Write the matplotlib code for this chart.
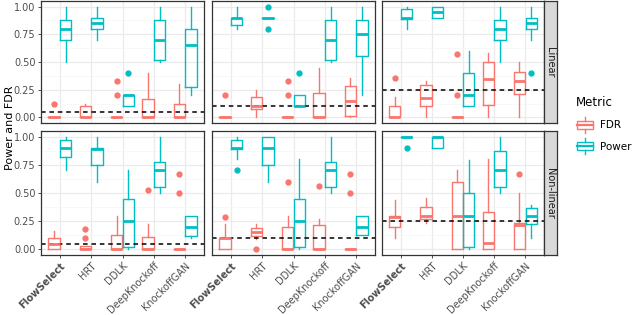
import matplotlib
matplotlib.use('Agg')
import matplotlib.pyplot as plt
from matplotlib.patches import Patch, Rectangle
from matplotlib.lines import Line2D
from matplotlib.legend_handler import HandlerBase

# ---- data (whislo, q1, med, q3, whishi) ----
methods = ['FlowSelect', 'HRT', 'DDLK', 'DeepKnockoff', 'KnockoffGAN']
thresholds = [0.05, 0.1, 0.25]
row_names = ['Linear', 'Non-linear']

fdr_lin_1 = [(0, 0, 0, 0, 0), (0, 0, 0, 0.1, 0.12), (0, 0, 0, 0, 0), (0, 0, 0, 0.167, 0.4), (0, 0, 0, 0.125, 0.3)]
fdr_lin_1_out = [[0.125], [], [0.333, 0.2], [], []]
pow_lin_1 = [(0.5, 0.7, 0.8, 0.88, 1.0), (0.7, 0.8, 0.85, 0.9, 1.0), (0.1, 0.1, 0.2, 0.2, 0.2),
             (0.5, 0.52, 0.7, 0.88, 1.0), (0.2, 0.275, 0.65, 0.8, 1.0)]
pow_lin_1_out = [[], [], [0.4], [], []]

fdr_lin_2 = [(0, 0, 0, 0, 0), (0, 0.075, 0.1, 0.185, 0.25), (0, 0, 0, 0, 0), (0, 0, 0, 0.22, 0.45), (0, 0.015, 0.15, 0.28, 0.355)]
fdr_lin_2_out = [[0.2], [], [0.333, 0.2], [], []]
pow_lin_2 = [(0.8, 0.83, 0.9, 0.9, 1.0), (0.9, 0.9, 0.9, 0.9, 0.9), (0.1, 0.1, 0.1, 0.2, 0.2),
             (0.5, 0.52, 0.7, 0.875, 1.0), (0.2, 0.55, 0.75, 0.875, 1.0)]
pow_lin_2_out = [[], [1.0, 0.8], [0.4], [], []]

fdr_lin_3 = [(0, 0, 0, 0.1, 0.18), (0, 0.1, 0.175, 0.29, 0.33), (0, 0, 0, 0, 0), (0, 0.11, 0.35, 0.5, 0.585), (0, 0.21, 0.33, 0.41, 0.5)]
fdr_lin_3_out = [[0.36], [], [0.57, 0.2], [], []]
pow_lin_3 = [(0.8, 0.89, 0.9, 0.98, 1.0), (0.9, 0.9, 0.95, 1.0, 1.0), (0.1, 0.1, 0.2, 0.4, 0.6),
             (0.5, 0.7, 0.8, 0.875, 1.0), (0.7, 0.8, 0.85, 0.9, 1.0)]
pow_lin_3_out = [[], [], [], [], [0.4]]

fdr_non_1 = [(0, 0, 0.05, 0.1, 0.167), (0, 0, 0, 0.03, 0.03), (0, 0, 0, 0.125, 0.3), (0, 0, 0, 0.11, 0.225), (0, 0, 0, 0, 0)]
fdr_non_1_out = [[], [0.18, 0.1], [], [0.53], [0.667, 0.5]]
pow_non_1 = [(0.7, 0.82, 0.9, 0.97, 1.0), (0.6, 0.75, 0.89, 0.9, 1.0), (0, 0.02, 0.25, 0.45, 0.7),
             (0.5, 0.55, 0.7, 0.775, 1.0), (0.1, 0.12, 0.2, 0.3, 0.3)]
pow_non_1_out = [[], [], [], [], []]

fdr_non_2 = [(0, 0, 0.1, 0.1, 0.225), (0.095, 0.115, 0.15, 0.19, 0.225), (0, 0, 0, 0.2, 0.3), (0, 0, 0, 0.22, 0.27), (0, 0, 0, 0, 0)]
fdr_non_2_out = [[0.285], [0.0], [0.6], [0.56], [0.667, 0.5]]
pow_non_2 = [(0.8, 0.89, 0.9, 0.97, 1.0), (0.6, 0.75, 0.9, 1.0, 1.0), (0, 0.02, 0.25, 0.45, 0.8),
             (0.5, 0.55, 0.7, 0.775, 1.0), (0.125, 0.125, 0.2, 0.3, 0.3)]
pow_non_2_out = [[0.7], [], [], [], []]

fdr_non_3 = [(0.1, 0.2, 0.29, 0.3, 0.44), (0.235, 0.27, 0.3, 0.38, 0.46), (0, 0, 0.3, 0.6, 0.7), (0, 0, 0.06, 0.33, 0.8), (0, 0, 0.22, 0.23, 0.5)]
fdr_non_3_out = [[], [], [], [], [0.667]]
pow_non_3 = [(1, 1, 1, 1, 1), (0.9, 0.9, 1.0, 1.0, 1.0), (0, 0.02, 0.3, 0.5, 0.79),
             (0.5, 0.55, 0.7, 0.87, 1.0), (0.1, 0.225, 0.3, 0.37, 0.39)]
pow_non_3_out = [[0.9], [], [], [], []]

panels = [[(fdr_lin_1, fdr_lin_1_out, pow_lin_1, pow_lin_1_out),
           (fdr_lin_2, fdr_lin_2_out, pow_lin_2, pow_lin_2_out),
           (fdr_lin_3, fdr_lin_3_out, pow_lin_3, pow_lin_3_out)],
          [(fdr_non_1, fdr_non_1_out, pow_non_1, pow_non_1_out),
           (fdr_non_2, fdr_non_2_out, pow_non_2, pow_non_2_out),
           (fdr_non_3, fdr_non_3_out, pow_non_3, pow_non_3_out)]]

col_fdr = '#F8766D'
col_pow = '#00BFC4'
grey20 = '#333333'
grey30 = '#4D4D4D'
grid_c = '#EBEBEB'

W, H = 640, 315
fig = plt.figure(figsize=(W / 100, H / 100), dpi=100)


def px_axes(x0, y0, x1, y1):
    # pixel box (from top-left) -> figure axes
    return fig.add_axes([x0 / W, 1 - y1 / H, (x1 - x0) / W, (y1 - y0) / H])


def make_stats(vals, outs):
    st = []
    for (lo, q1, med, q3, hi), fl in zip(vals, outs):
        st.append(dict(whislo=lo, q1=q1, med=med, q3=q3, whishi=hi, fliers=fl))
    return st


def draw_boxes(ax, vals, outs, color, offset):
    pos = [i + 1 + offset for i in range(len(vals))]
    lw = 1.0
    ax.bxp(make_stats(vals, outs), positions=pos, widths=0.36, showcaps=False,
           boxprops=dict(color=color, lw=lw),
           whiskerprops=dict(color=color, lw=lw),
           medianprops=dict(color=color, lw=2.0, solid_capstyle='butt'),
           flierprops=dict(marker='o', markerfacecolor=color, markeredgecolor=color, markersize=3.5),
           manage_ticks=False)


col_x = [(41, 204), (212, 375), (382, 544)]
row_y = [(1, 123), (131, 255)]

for r in range(2):
    for c in range(3):
        ax = px_axes(col_x[c][0], row_y[r][0], col_x[c][1], row_y[r][1])
        ax.set_xlim(0.4, 5.6)
        ax.set_ylim(-0.05, 1.05)
        ax.set_yticks([0, 0.25, 0.5, 0.75, 1.0])
        ax.set_yticks([0.125, 0.375, 0.625, 0.875], minor=True)
        ax.set_xticks(range(1, 6))
        ax.grid(True, which='major', color=grid_c, lw=0.9)
        ax.grid(True, which='minor', axis='y', color='#F5F5F5', lw=0.5)
        ax.set_axisbelow(True)
        for s in ax.spines.values():
            s.set_color(grey20)
            s.set_linewidth(0.9)
        fdr, fdr_out, pw, pw_out = panels[r][c]
        draw_boxes(ax, fdr, fdr_out, col_fdr, -0.1875)
        draw_boxes(ax, pw, pw_out, col_pow, 0.1875)
        ax.axhline(thresholds[c], color='black', ls=(0, (3, 2.5)), lw=1.1)

        ax.tick_params(which='minor', length=0)
        ax.tick_params(which='major', length=2.5, color=grey20, width=0.6, labelsize=7, labelcolor=grey30, pad=1.5)
        if c == 0:
            ax.set_yticklabels(['0.00', '0.25', '0.50', '0.75', '1.00'])
        else:
            ax.tick_params(axis='y', length=0, labelleft=False)
        if r == 1:
            ax.set_xticklabels(methods, rotation=45, ha='right', va='top', rotation_mode='anchor')
            ax.get_xticklabels()[0].set_fontweight('bold')
        else:
            ax.tick_params(axis='x', length=0, labelbottom=False)

    # facet strip on the right
    sax = px_axes(544, row_y[r][0], 557, row_y[r][1])
    sax.set_facecolor('#D9D9D9')
    sax.set_xticks([])
    sax.set_yticks([])
    for s in sax.spines.values():
        s.set_color(grey20)
        s.set_linewidth(0.9)
    sax.text(0.5, 0.5, row_names[r], rotation=270, ha='center', va='center',
             fontsize=7, color='#1A1A1A', transform=sax.transAxes)

fig.text(10 / W, 1 - 128 / H, 'Power and FDR', rotation=90, ha='center', va='center', fontsize=8, color='black')


class BoxHandler(HandlerBase):
    def create_artists(self, legend, orig_handle, xdescent, ydescent, width, height, fontsize, trans):
        c = orig_handle.get_edgecolor()
        w = width * 0.85
        x0 = -xdescent + (width - w) / 2
        y0 = -ydescent
        h = height * 1.7
        y0 = y0 - (h - height) / 2
        cx = x0 + w / 2
        box = Rectangle((x0, y0 + 0.25 * h), w, 0.5 * h, facecolor='white', edgecolor=c, lw=1.0, transform=trans)
        med = Line2D([x0, x0 + w], [y0 + 0.5 * h] * 2, color=c, lw=1.6, transform=trans)
        w1 = Line2D([cx, cx], [y0, y0 + 0.25 * h], color=c, lw=1.0, transform=trans)
        w2 = Line2D([cx, cx], [y0 + 0.75 * h, y0 + h], color=c, lw=1.0, transform=trans)
        return [box, med, w1, w2]


handles = [Patch(edgecolor=col_fdr, facecolor='white', label='FDR'),
           Patch(edgecolor=col_pow, facecolor='white', label='Power')]
leg = fig.legend(handles=handles, handler_map={Patch: BoxHandler()}, title='Metric',
                 loc='upper left', bbox_to_anchor=(572 / W, 1 - 92 / H), frameon=False,
                 fontsize=7.5, title_fontsize=8.5, handlelength=1.7, handleheight=1.0,
                 labelspacing=1.05, handletextpad=0.6, borderaxespad=0)
leg._legend_box.align = 'left'

fig.savefig('out.png', dpi=100)
